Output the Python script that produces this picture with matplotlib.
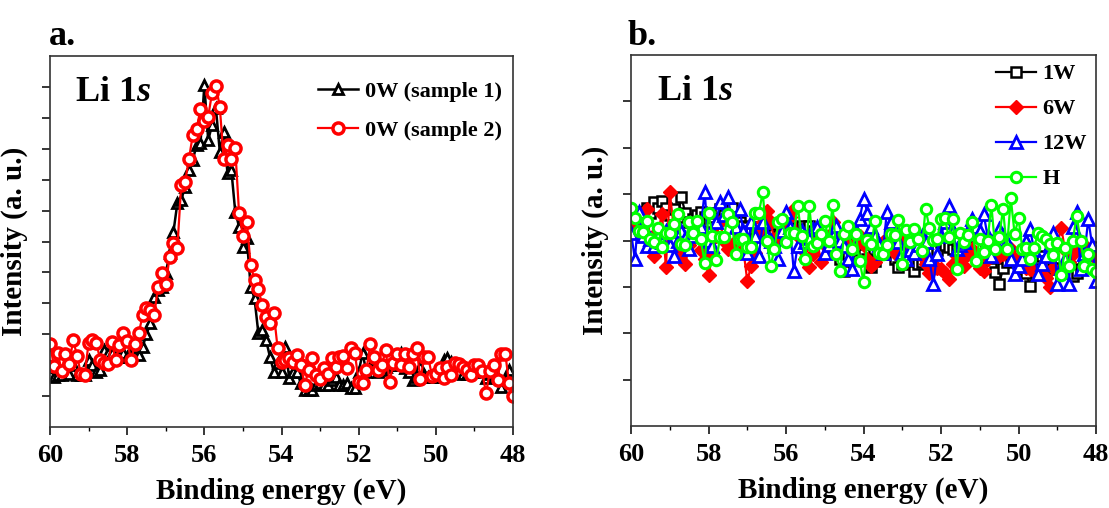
import numpy as np
import matplotlib as mpl; mpl.use('Agg')
import matplotlib.pyplot as plt
from matplotlib.ticker import MultipleLocator

plt.rcParams.update({'font.family': 'Liberation Serif', 'font.weight': 'bold',
                     'mathtext.fontset': 'custom', 'mathtext.rm': 'Liberation Serif:bold',
                     'mathtext.it': 'Liberation Serif:italic:bold'})

# binding energy grid, 60 -> 48 eV in 0.1 eV steps
energy = np.linspace(60, 48, 121)

# ---- panel a: 0W, two samples (arb. units) ----
w0_s1 = [0.95, 0.63, 0.68, 0.68, 0.90, 0.73, 1.00, 0.68, 0.68, 0.68,
         1.17, 1.00, 0.78, 0.84, 1.49, 1.38, 1.38, 1.27, 1.27, 1.38,
         1.27, 1.49, 1.59, 1.33, 1.59, 2.00, 2.35, 3.21, 3.43, 3.54,
         3.97, 4.62, 5.32, 6.24, 6.34, 6.77, 7.31, 7.64, 8.12, 8.18,
         10.06, 8.28, 8.77, 9.31, 7.91, 8.55, 7.21, 7.31, 5.97, 5.48,
         4.83, 5.10, 3.54, 3.16, 2.03, 2.14, 1.81, 1.27, 0.79, 1.06,
         0.79, 1.59, 0.57, 0.79, 0.79, 0.41, 0.19, 0.19, 0.19, 0.36,
         0.41, 0.36, 0.36, 0.52, 0.63, 0.36, 0.36, 0.41, 0.25, 0.25,
         0.79, 1.38, 0.79, 0.95, 1.17, 0.79, 0.84, 0.95, 1.00, 1.00,
         1.17, 1.38, 0.90, 0.79, 0.52, 0.63, 0.95, 0.68, 0.63, 0.63,
         0.63, 0.63, 1.17, 1.22, 1.11, 1.00, 1.00, 0.73, 0.73, 0.79,
         0.79, 0.84, 0.84, 0.57, 0.73, 0.73, 0.57, 0.30, 0.52, 0.84,
         0.52]
w0_s2 = [1.70, 0.97, 1.40, 0.82, 1.36, 1.04, 1.83, 1.29, 0.73, 0.69,
         1.73, 1.83, 1.73, 1.17, 1.08, 1.04, 1.76, 1.17, 1.65, 2.03,
         1.79, 1.17, 1.68, 2.03, 2.62, 2.84, 2.80, 2.61, 3.54, 3.97,
         3.62, 4.51, 4.96, 4.78, 6.83, 6.94, 7.66, 8.45, 8.65, 9.28,
         8.91, 9.04, 9.82, 10.03, 9.36, 7.68, 8.12, 7.68, 8.02, 5.91,
         5.18, 5.64, 4.24, 3.75, 3.47, 2.94, 2.55, 2.35, 2.68, 1.54,
         1.11, 1.17, 1.22, 1.11, 1.33, 1.00, 0.36, 0.84, 1.22, 0.68,
         0.54, 0.90, 0.73, 1.22, 0.95, 1.27, 1.29, 0.90, 1.57, 1.40,
         0.46, 0.43, 0.84, 1.68, 1.25, 0.84, 1.00, 1.49, 0.46, 1.06,
         1.36, 1.00, 1.36, 0.95, 1.36, 1.57, 0.54, 1.27, 1.27, 0.65,
         0.73, 0.90, 0.57, 0.95, 0.68, 1.06, 1.04, 0.95, 0.84, 0.68,
         1.00, 1.00, 0.80, 0.09, 0.80, 1.00, 0.52, 1.36, 1.36, 0.41,
         0.00]

# ---- panel b: 1W, 6W, 12W, H ----
w1 = [4.50, 4.40, 4.61, 4.55, 4.71, 4.60, 4.82, 4.70, 4.86, 4.70,
      4.55, 4.68, 4.50, 4.93, 4.60, 4.40, 4.46, 4.55, 4.61, 4.50,
      4.40, 4.50, 4.60, 4.68, 4.55, 4.60, 4.71, 4.50, 4.40, 4.32,
      4.30, 4.20, 4.24, 4.30, 4.20, 4.32, 4.25, 4.15, 4.10, 4.20,
      4.30, 4.24, 4.20, 4.28, 4.32, 4.25, 4.32, 4.20, 4.15, 4.10,
      4.05, 4.00, 3.82, 3.90, 3.60, 3.34, 3.70, 3.89, 3.95, 3.80,
      3.70, 3.60, 3.42, 3.55, 3.70, 3.82, 3.80, 3.70, 3.60, 3.42,
      3.50, 3.67, 3.60, 3.34, 3.50, 3.53, 3.60, 3.70, 3.74, 3.80,
      3.96, 3.90, 3.85, 3.82, 3.80, 3.75, 3.82, 3.90, 3.96, 3.85,
      3.70, 3.53, 3.45, 3.40, 3.33, 3.06, 3.40, 3.53, 3.60, 3.70,
      3.50, 3.40, 3.30, 3.02, 3.40, 3.60, 3.67, 3.55, 3.45, 3.40,
      3.38, 3.30, 3.35, 3.40, 3.24, 3.30, 3.38, 3.45, 3.53, 3.70,
      3.87]
w6 = [4.35, 4.61, 4.20, 4.50, 4.68, 4.00, 3.67, 4.20, 4.57, 3.42,
      5.04, 4.30, 3.89, 3.70, 3.49, 3.90, 4.10, 4.21, 3.80, 3.60,
      3.25, 3.70, 4.10, 4.39, 4.00, 3.82, 3.90, 4.00, 4.10, 3.80,
      3.13, 3.45, 3.74, 4.20, 4.39, 4.64, 4.40, 4.00, 4.10, 4.30,
      4.24, 4.50, 4.68, 4.10, 3.82, 3.60, 3.42, 3.70, 4.03, 3.53,
      3.90, 4.10, 4.39, 4.20, 4.00, 3.96, 3.90, 3.82, 3.96, 4.10,
      3.90, 3.60, 3.45, 3.53, 3.80, 3.96, 3.96, 3.90, 3.74, 3.82,
      4.03, 4.00, 3.82, 3.90, 3.75, 3.67, 3.50, 3.31, 3.45, 3.40,
      3.38, 3.30, 3.17, 3.50, 3.67, 3.55, 3.45, 3.70, 3.82, 3.60,
      3.40, 3.34, 3.60, 3.82, 3.75, 3.67, 3.70, 3.80, 3.82, 3.60,
      3.53, 3.45, 3.40, 3.38, 3.35, 3.31, 3.28, 3.20, 3.00, 3.40,
      3.90, 4.28, 3.80, 3.53, 3.70, 3.82, 3.96, 3.85, 3.82, 3.70,
      3.60]
w12 = [4.17, 3.60, 4.61, 4.10, 3.89, 4.03, 3.89, 4.10, 3.96, 4.20,
       3.90, 3.67, 4.00, 4.21, 4.05, 3.82, 4.10, 4.21, 4.30, 5.04,
       4.00, 3.89, 4.40, 4.82, 4.55, 4.93, 4.46, 4.30, 4.68, 4.20,
       3.74, 4.39, 4.10, 3.67, 4.39, 4.10, 4.00, 3.89, 3.60, 4.20,
       4.61, 4.30, 3.34, 3.89, 4.20, 3.96, 4.05, 4.24, 4.30, 4.10,
       3.74, 3.90, 4.10, 4.32, 4.00, 3.89, 3.60, 3.38, 4.20, 4.46,
       4.90, 4.60, 4.30, 4.10, 3.90, 3.74, 4.61, 4.40, 4.10, 3.96,
       3.74, 3.60, 3.80, 3.74, 3.90, 4.10, 3.96, 3.60, 3.06, 3.70,
       4.10, 4.40, 4.75, 4.20, 3.82, 3.90, 3.96, 4.20, 4.46, 4.30,
       4.20, 4.57, 4.10, 3.67, 4.00, 4.24, 4.10, 3.96, 3.60, 3.27,
       3.45, 3.60, 4.00, 4.24, 3.80, 3.27, 3.50, 3.67, 3.90, 4.17,
       3.06, 3.40, 3.60, 3.06, 4.30, 4.61, 3.38, 3.70, 4.46, 3.90,
       3.13]
wh = [4.71, 4.48, 4.21, 4.19, 4.43, 4.03, 3.96, 4.28, 3.87, 4.17,
      4.17, 4.35, 4.57, 3.92, 3.90, 4.40, 4.17, 4.43, 4.03, 3.51,
      4.59, 4.10, 3.58, 4.07, 4.07, 4.57, 4.39, 3.71, 4.03, 4.03,
      3.85, 3.87, 4.60, 4.60, 5.04, 3.99, 3.44, 3.81, 4.39, 4.46,
      3.96, 4.16, 4.17, 4.75, 4.10, 3.61, 4.75, 3.89, 3.94, 4.14,
      4.43, 4.00, 4.76, 3.71, 3.35, 4.14, 4.32, 3.81, 4.14, 3.56,
      3.11, 4.02, 3.92, 4.43, 3.74, 3.71, 3.90, 4.14, 4.12, 4.45,
      3.49, 4.22, 3.97, 4.25, 4.03, 3.78, 4.68, 4.28, 4.02, 4.03,
      4.46, 4.48, 4.07, 4.46, 3.38, 4.17, 3.97, 4.12, 4.40, 3.56,
      4.03, 3.76, 4.00, 4.76, 3.81, 4.07, 4.68, 3.81, 4.91, 4.14,
      4.48, 3.81, 3.83, 3.60, 3.83, 4.17, 4.10, 4.04, 3.92, 3.69,
      3.94, 3.25, 3.83, 3.46, 4.00, 4.53, 4.00, 3.46, 3.71, 3.38,
      3.33]

fig = plt.figure(figsize=(11.09, 5.08), dpi=100)
axa = fig.add_axes([0.0451, 0.1594, 0.4175, 0.7303])
axb = fig.add_axes([0.5690, 0.1614, 0.4193, 0.7303])

def style(ax):
    ax.set_xlim(60, 48)
    ax.xaxis.set_major_locator(MultipleLocator(2))
    ax.xaxis.set_minor_locator(MultipleLocator(1))
    ax.tick_params(axis='x', which='major', direction='out', length=6, width=1.1,
                   labelsize=19, pad=6)
    ax.tick_params(axis='x', which='minor', direction='out', length=3, width=1.0)
    ax.tick_params(axis='y', direction='out', length=6, width=1.1, labelleft=False)
    for s in ax.spines.values():
        s.set_linewidth(1.2); s.set_color('#333333')
    ax.set_xlabel('Binding energy (eV)', fontsize=21, fontweight='bold', labelpad=8)
    ax.set_ylabel('Intensity (a. u.)', fontsize=21, fontweight='bold', labelpad=10)
    ax.text(0.055, 0.88, r'Li 1$\mathit{s}$', transform=ax.transAxes, fontsize=26,
            fontweight='bold', va='baseline')

# panel a
axa.plot(energy, w0_s1, color='k', lw=1.8, marker='^', ms=7.5, mfc='white', mec='k',
         mew=2.0, label='0W (sample 1)')
axa.plot(energy, w0_s2, color='red', lw=1.6, marker='o', ms=8, mfc='white', mec='red',
         mew=2.5, label='0W (sample 2)')
axa.set_ylim(-1, 11)
axa.set_yticks([0, 2, 3, 4, 5, 6, 7, 8, 9, 10])
style(axa)
axa.legend(loc='upper right', bbox_to_anchor=(1.0, 0.961), frameon=False, fontsize=16,
           handlelength=1.8, handletextpad=0.3, labelspacing=0.8, borderaxespad=0.1)

# panel b
axb.plot(energy, w1, color='k', lw=1.6, marker='s', ms=6.5, mfc='white', mec='k',
         mew=1.8, label='1W')
axb.plot(energy, w6, color='red', lw=1.6, marker='D', ms=7.5, mfc='red', mec='red',
         label='6W')
axb.plot(energy, w12, color='blue', lw=1.6, marker='^', ms=8.5, mfc='white', mec='blue',
         mew=2.0, label='12W')
axb.plot(energy, wh, color='#00ff00', lw=1.6, marker='o', ms=7.5, mfc='white',
         mec='#00ff00', mew=2.2, label='H')
axb.set_ylim(0, 8)
axb.set_yticks([1, 2, 3, 4, 5, 6, 7])
style(axb)
axb.legend(loc='upper right', frameon=False, fontsize=16, handlelength=1.8,
           handletextpad=0.3, labelspacing=0.65, borderaxespad=0.0)

fig.text(0.044, 0.912, 'a.', fontsize=26, fontweight='bold', va='baseline')
fig.text(0.566, 0.912, 'b.', fontsize=26, fontweight='bold', va='baseline')

fig.savefig('out.png', dpi=100)
